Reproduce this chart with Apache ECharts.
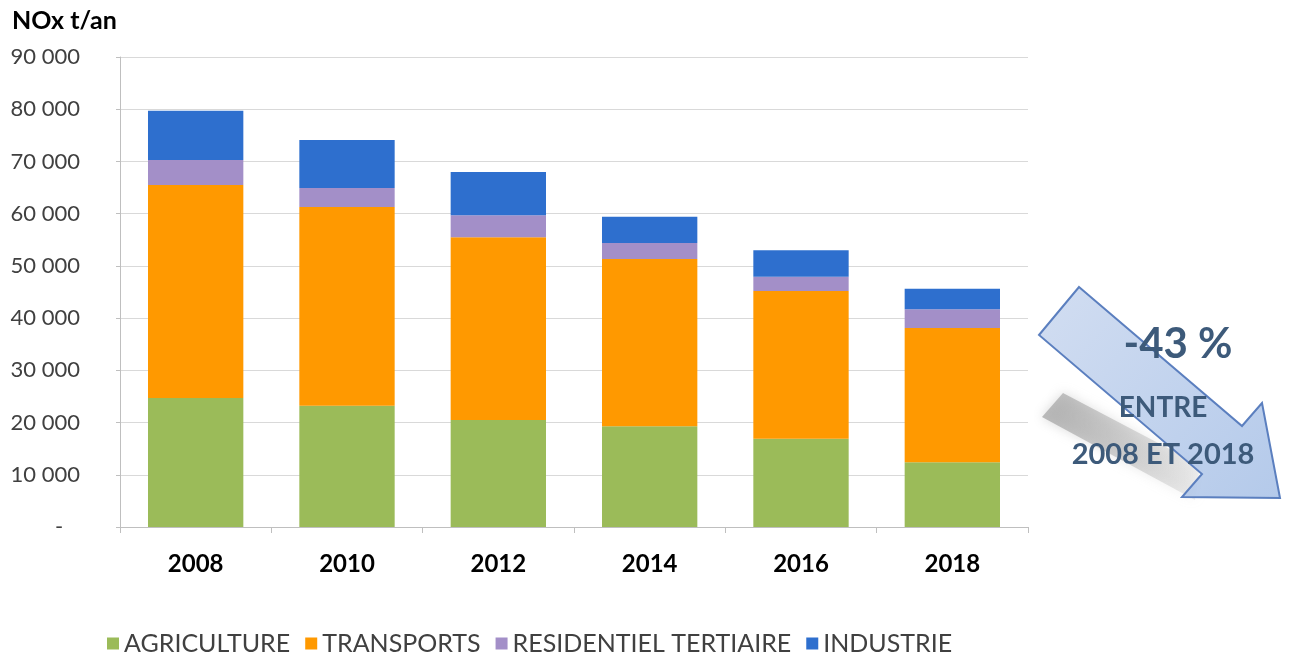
<!DOCTYPE html>
<html>
<head>
<meta charset="utf-8">
<title>NOx t/an</title>
<script src="https://cdn.jsdelivr.net/npm/echarts@6/dist/echarts.min.js"></script>
<style>
  html, body { margin: 0; padding: 0; background: #fff; }
  #chart { width: 1289px; height: 659px; }
</style>
</head>
<body>
<div id="chart"></div>
<script>
// années
const years = ['2008', '2010', '2012', '2014', '2016', '2018']
// émissions par secteur (t/an)
const agriculture = [24700, 23200, 20500, 19300, 16900, 12400]
const transports = [40800, 38100, 35000, 32000, 28300, 25700]
const residentiel = [4800, 3600, 4200, 3100, 2700, 3600]
const industrie = [9400, 9200, 8300, 5000, 5100, 3900]

const colors = ['#9BBB59', '#FF9900', '#A38FC8', '#2E6FCE']
const font = 'Lato, "Open Sans", sans-serif'

const myChart = echarts.init(document.getElementById('chart'))

// libellés de l'axe Y : 90 000 ... et "-" pour zéro
function yLabel(v) {
  if (v === 0) return '-   '
  return String(v).replace(/\B(?=(\d{3})+(?!\d))/g, ' ')
}

function barSeries(name, data, color) {
  return {
    name: name,
    type: 'bar',
    stack: 'total',
    barWidth: '63%',
    itemStyle: { color: color },
    data: data
  }
}

// flèche "-43 %"
const arrow = [[1079, 287], [1242, 426], [1262, 403], [1280, 498], [1182, 497], [1202, 474], [1039, 335]]
const shadow = [[1063, 393], [1200, 465], [1195, 500], [1042, 417]]

const option = {
  animation: false,
  textStyle: { fontFamily: font },
  grid: { left: 120, right: 261, top: 57, bottom: 132 },
  legend: {
    left: 102,
    top: 626,
    icon: 'rect',
    itemWidth: 12,
    itemHeight: 12,
    itemGap: 15,
    textStyle: { fontSize: 25, color: '#404040', fontFamily: font }
  },
  xAxis: {
    type: 'category',
    data: years,
    axisLine: { lineStyle: { color: '#bfbfbf' } },
    axisTick: { show: true, length: 6, lineStyle: { color: '#bfbfbf' } },
    axisLabel: { margin: 25, fontSize: 24, fontWeight: 'bold', color: '#000' }
  },
  yAxis: {
    type: 'value',
    min: 0,
    max: 90000,
    interval: 10000,
    name: 'NOx t/an',
    nameLocation: 'end',
    nameGap: 24,
    nameTextStyle: { fontSize: 25, fontWeight: 'bold', color: '#000', align: 'left', padding: [0, 0, 0, -108] },
    axisLine: { show: true, lineStyle: { color: '#bfbfbf' } },
    axisTick: { show: true, length: 4, lineStyle: { color: '#bfbfbf' } },
    splitLine: { lineStyle: { color: '#d9d9d9' } },
    axisLabel: { margin: 40, fontSize: 22, color: '#404040', formatter: yLabel }
  },
  series: [
    barSeries('AGRICULTURE', agriculture, colors[0]),
    barSeries('TRANSPORTS', transports, colors[1]),
    barSeries('RESIDENTIEL TERTIAIRE', residentiel, colors[2]),
    barSeries('INDUSTRIE', industrie, colors[3])
  ],
  graphic: [
    {
      type: 'polygon',
      shape: { points: shadow },
      style: {
        fill: new echarts.graphic.LinearGradient(0, 0, 1, 0, [
          { offset: 0, color: 'rgba(160,160,160,0.7)' },
          { offset: 1, color: 'rgba(160,160,160,0.15)' }
        ]),
        shadowBlur: 12,
        shadowColor: 'rgba(160,160,160,0.6)'
      },
      silent: true
    },
    {
      type: 'polygon',
      shape: { points: arrow },
      style: {
        fill: new echarts.graphic.LinearGradient(0, 0, 1, 1, [
          { offset: 0, color: 'rgba(205,218,240,0.9)' },
          { offset: 1, color: 'rgba(172,196,232,0.9)' }
        ]),
        stroke: '#5b7fbf',
        lineWidth: 2
      },
      silent: true
    },
    {
      type: 'text',
      x: 1178,
      y: 344,
      style: { text: '-43 %', font: 'bold 42px ' + font, fill: '#3d5a7a', textAlign: 'center', textVerticalAlign: 'middle' },
      silent: true
    },
    {
      type: 'text',
      x: 1163,
      y: 408,
      style: { text: 'ENTRE', font: 'bold 28px ' + font, fill: '#3d5a7a', textAlign: 'center', textVerticalAlign: 'middle' },
      silent: true
    },
    {
      type: 'text',
      x: 1163,
      y: 455,
      style: { text: '2008 ET 2018', font: 'bold 29px ' + font, fill: '#3d5a7a', textAlign: 'center', textVerticalAlign: 'middle' },
      silent: true
    }
  ]
}
myChart.setOption(option)
</script>
</body>
</html>
